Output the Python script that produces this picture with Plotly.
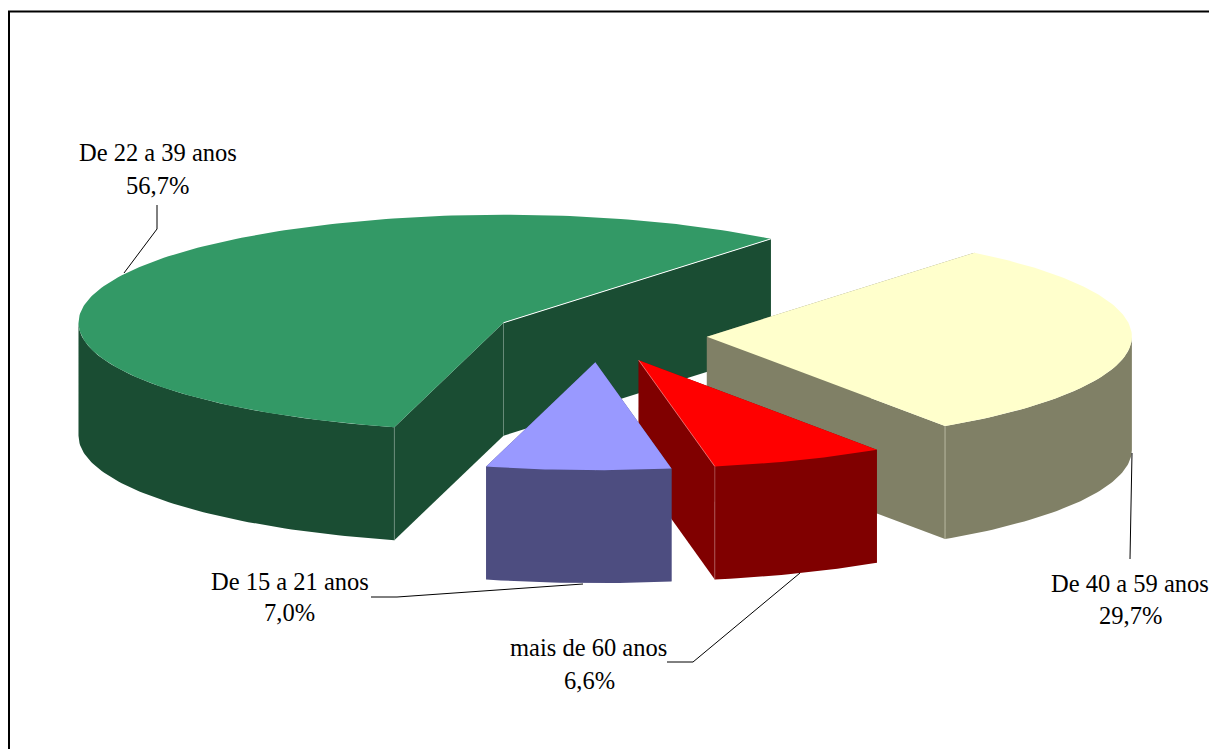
import math
import plotly.graph_objects as go

# Data, counter-clockwise from the first angle
categories = ["De 22 a 39 anos", "De 15 a 21 anos", "mais de 60 anos", "De 40 a 59 anos"]
values = [56.7, 7.0, 6.6, 29.7]
explode = [0.26, 0.247, 0.247, 0.247]
nudge_x = [0, -2.5, -3, 0]
top_colors = ["#339966", "#9999FF", "#FF0000", "#FFFFCC"]
side_colors = ["#1A4D33", "#4D4D80", "#800000", "#808066"]
edge_colors = ["#FFFFFF", "#9999FF", "#FFB0B0", "#FFFFCC"]
rib_colors = ["#6F8F7F", None, "#B06060", "#C4C4B0"]
draw_order = [0, 3, 2, 1]

# Pie projection
FIRST_ANGLE = 51.0
CX, CY, RX, RY, DEPTH = 602.0, 335.5, 425.0, 108.0, 113.0
W, H = 1209, 749

label_lines = [
    ("De 22 a 39 anos", 158, 152), ("56,7%", 157, 185),
    ("De 15 a 21 anos", 290, 581), ("7,0%", 289, 612),
    ("mais de 60 anos", 588.5, 647), ("6,6%", 589, 680),
    ("De 40 a 59 anos", 1130, 583), ("29,7%", 1130, 615),
]
leaders = [
    ([157, 157, 124], [205, 229, 273]),
    ([583, 397, 371], [584, 597, 597]),
    ([800, 693, 667], [573, 662, 662]),
    ([1132, 1130], [453, 559]),
]

fig = go.Figure()


def poly(xs, ys, fill):
    fig.add_trace(go.Scatter(x=xs, y=ys, mode="lines", fill="toself", fillcolor=fill,
                             line=dict(width=0, color=fill), hoverinfo="skip", showlegend=False))


def seg(xs, ys, color, width=1.0):
    fig.add_trace(go.Scatter(x=xs, y=ys, mode="lines", line=dict(color=color, width=width),
                             hoverinfo="skip", showlegend=False))


total = sum(values)
spans = []
a = FIRST_ANGLE
for v in values:
    b = a + v / total * 360
    spans.append((a, b))
    a = b

for i in draw_order:
    a0, a1 = spans[i]
    mid = math.radians((a0 + a1) / 2)
    ax = CX + explode[i] * RX * math.cos(mid) + nudge_x[i]
    ay = CY - explode[i] * RY * math.sin(mid)
    n = max(4, int(a1 - a0))
    degs = [a0 + (a1 - a0) * k / n for k in range(n + 1)]
    angs = [math.radians(d) for d in degs]
    rx = [ax + RX * math.cos(t) for t in angs]
    ry = [ay - RY * math.sin(t) for t in angs]
    side = side_colors[i]
    # inner walls
    for ex, ey in ((rx[0], ry[0]), (rx[-1], ry[-1])):
        poly([ax, ex, ex, ax, ax], [ay, ey, ey + DEPTH, ay + DEPTH, ay], side)
    # outer rim: only the front half of the ellipse is visible
    lo, hi = max(a0, 180.0), min(a1, 360.0)
    m = max(4, int(hi - lo))
    fd = [math.radians(lo + (hi - lo) * k / m) for k in range(m + 1)]
    fx = [ax + RX * math.cos(t) for t in fd]
    fy = [ay - RY * math.sin(t) for t in fd]
    poly(fx + fx[::-1] + [fx[0]], fy + [y + DEPTH for y in fy[::-1]] + [fy[0]], side)
    # thin vertical ribs
    if rib_colors[i]:
        if i == 0:
            seg([ax, ax], [ay, ay + DEPTH], rib_colors[i], 0.8)
            seg([rx[-1], rx[-1]], [ry[-1], ry[-1] + DEPTH], rib_colors[i], 0.8)
        elif i == 2:
            seg([rx[0], rx[0]], [ry[0], ry[0] + DEPTH], rib_colors[i], 0.8)
        elif i == 3:
            seg([rx[0], rx[0]], [ry[0], ry[0] + DEPTH], rib_colors[i], 0.8)
    # top face
    poly([ax] + rx + [ax], [ay] + ry + [ay], top_colors[i])
    if i == 0:
        seg([ax, rx[0]], [ay, ry[0]], edge_colors[i], 1.0)
    if i == 2:
        seg([ax, rx[0]], [ay, ry[0]], edge_colors[i], 0.6)

for xs, ys in leaders:
    seg(xs, ys, "#000000", 1.0)

annotations = [
    dict(x=x, y=y, text=t, xref="x", yref="y", showarrow=False, xanchor="center", yanchor="middle",
         font=dict(family="Liberation Serif", size=24.5, color="#000000"))
    for t, x, y in label_lines
]

fig.update_layout(
    width=W, height=H, margin=dict(l=0, r=0, t=0, b=0), autosize=False,
    paper_bgcolor="#FFFFFF", plot_bgcolor="#FFFFFF", showlegend=False,
    xaxis=dict(range=[0, W], visible=False, fixedrange=True),
    yaxis=dict(range=[H, 0], visible=False, fixedrange=True),
    annotations=annotations,
    shapes=[dict(type="rect", xref="x", yref="y", x0=9, y0=11.5, x1=W + 20, y1=H + 20,
                 line=dict(color="#000000", width=2), layer="below")],
)
fig.write_html("out.html", config=dict(displayModeBar=False),
               post_script="document.body.style.margin='0';document.body.style.overflow='hidden';")
